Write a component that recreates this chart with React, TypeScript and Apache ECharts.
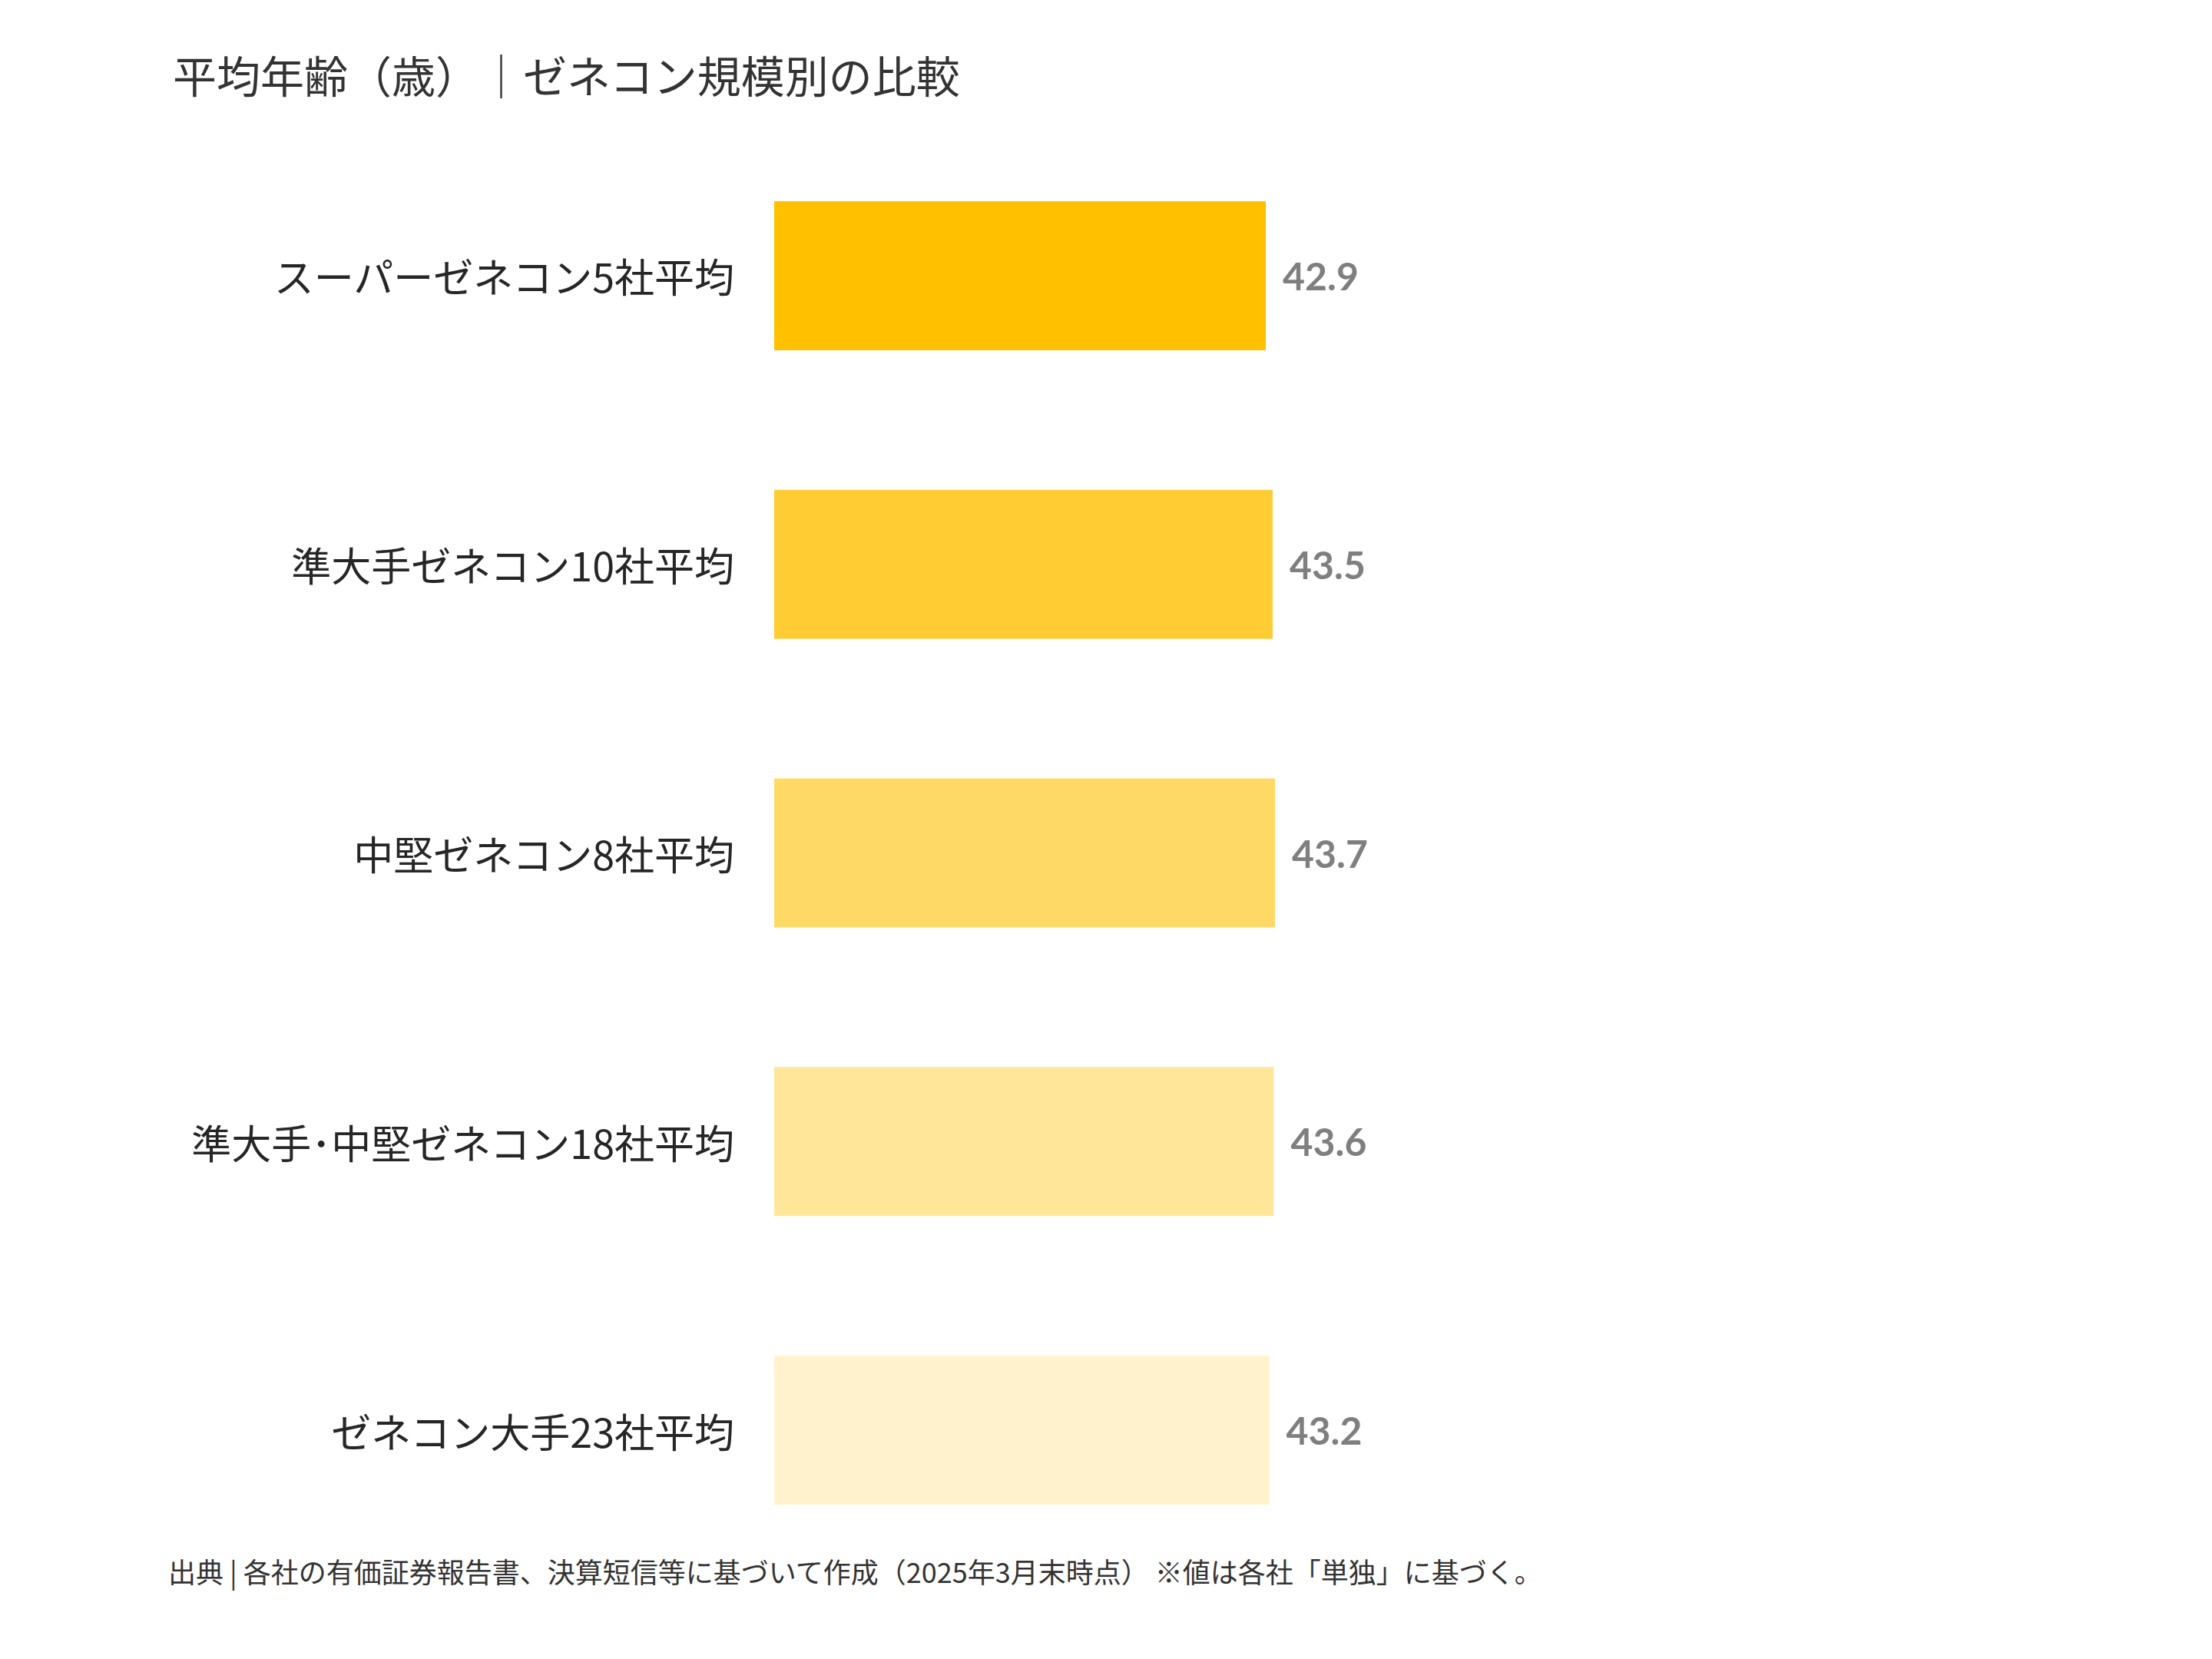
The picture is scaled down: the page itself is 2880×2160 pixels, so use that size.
import React, { useEffect, useRef } from "react";
import * as echarts from "echarts";

const categories = [
  "スーパーゼネコン5社平均",
  "準大手ゼネコン10社平均",
  "中堅ゼネコン8社平均",
  "準大手･中堅ゼネコン18社平均",
  "ゼネコン大手23社平均",
];
const values = [42.9, 43.5, 43.7, 43.6, 43.2];
const barColors = ["#FFC000", "#FFCD33", "#FFD966", "#FFE699", "#FFF2CC"];

const titleText = "平均年齢（歳）｜ゼネコン規模別の比較";
const sourceText =
  "出典 | 各社の有価証券報告書、決算短信等に基づいて作成（2025年3月末時点） ※値は各社「単独」に基づく。";

const jpFont = "'Noto Sans CJK JP', 'Noto Sans', sans-serif";

const App = () => {
  const chartRef = useRef<HTMLDivElement>(null);

  useEffect(() => {
    document.body.style.margin = "0";
    const myChart = echarts.init(chartRef.current!, null, { renderer: "svg" });
    const option = {
      animation: false,
      backgroundColor: "#ffffff",
      title: [
        {
          text: titleText,
          left: 220,
          top: 62,
          textStyle: {
            fontFamily: jpFont,
            fontSize: 57,
            fontWeight: "normal",
            color: "#333333",
          },
        },
        {
          text: sourceText,
          left: 214,
          top: 2022,
          textStyle: {
            fontFamily: jpFont,
            fontSize: 36,
            fontWeight: "normal",
            color: "#333333",
          },
        },
      ],
      grid: {
        left: 1008,
        right: 380,
        top: 171,
        bottom: 110,
        containLabel: false,
      },
      xAxis: {
        type: "value",
        min: 0,
        max: 100,
        show: false,
        splitLine: { show: false },
      },
      yAxis: {
        type: "category",
        data: categories,
        inverse: true,
        axisLine: { show: false },
        axisTick: { show: false },
        axisLabel: {
          margin: 52,
          fontFamily: jpFont,
          fontSize: 52,
          color: "#262626",
        },
      },
      series: [
        {
          type: "bar",
          barWidth: 194,
          data: values.map((v, i) => ({
            value: v,
            itemStyle: { color: barColors[i] },
          })),
          label: {
            show: true,
            position: "right",
            distance: 22,
            formatter: (p: any) => p.value.toFixed(1),
            fontFamily: "Lato, 'Open Sans', sans-serif",
            fontWeight: "bold",
            fontSize: 50,
            color: "#7F7F7F",
          },
        },
      ],
    };
    myChart.setOption(option);
    return () => {
      myChart.dispose();
    };
  }, []);

  return (
    <div
      ref={chartRef}
      style={{ position: "fixed", left: 0, top: 0, width: 2880, height: 2160 }}
    ></div>
  );
};

export default App;
